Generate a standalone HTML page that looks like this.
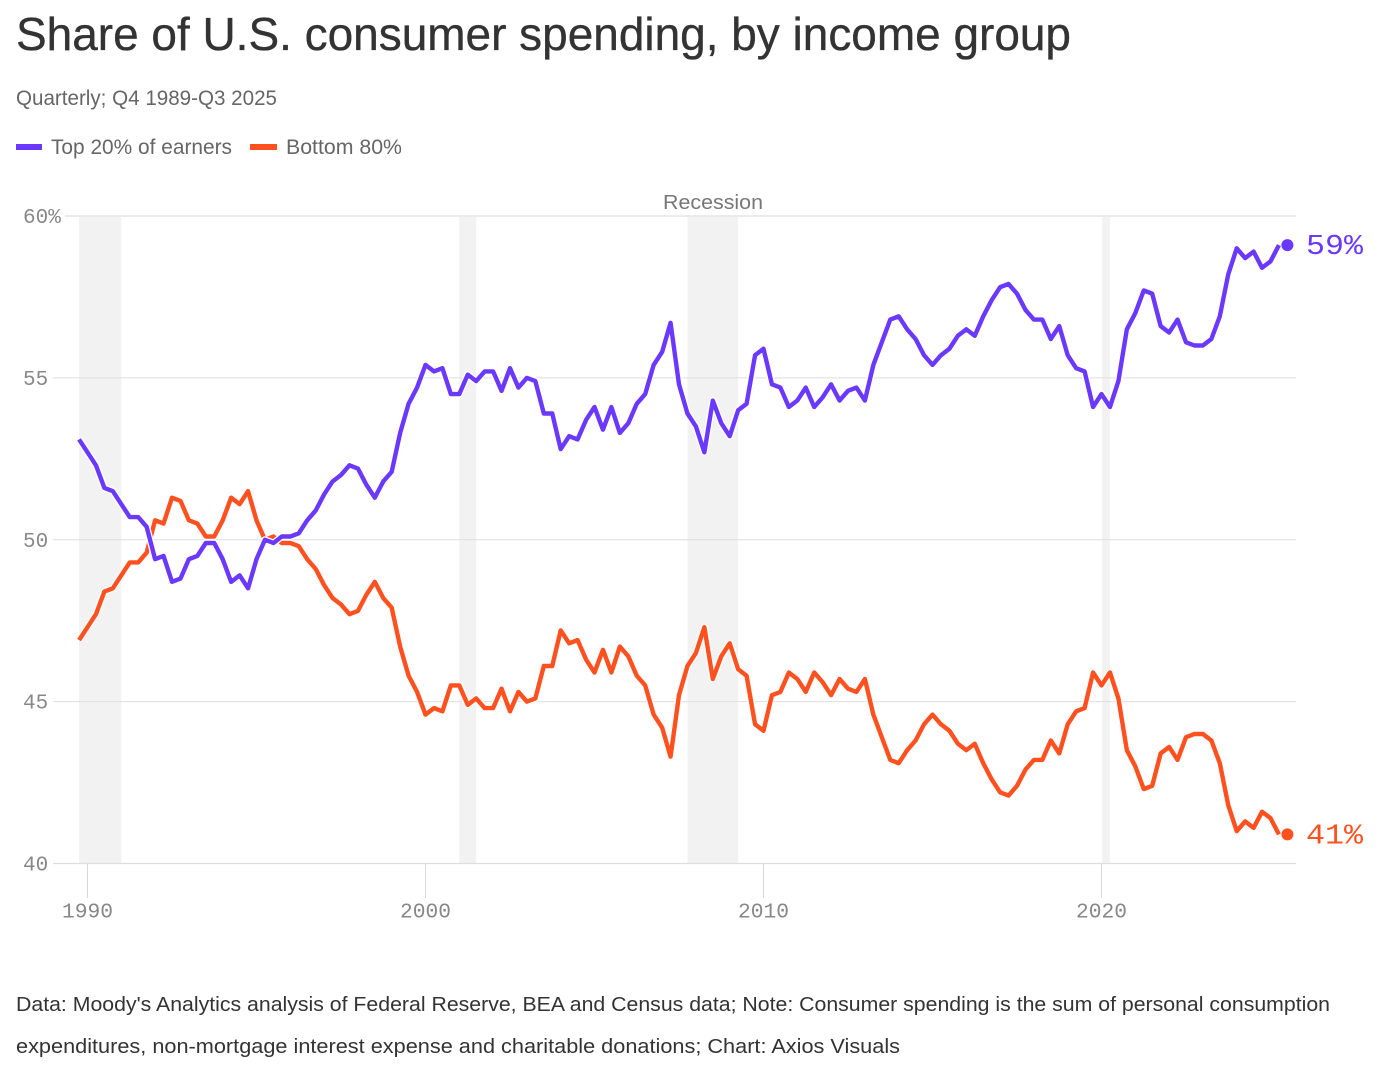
<!DOCTYPE html>
<html lang="en">
<head>
<meta charset="utf-8">
<title>Share of U.S. consumer spending, by income group</title>
<style>
html,body{margin:0;padding:0;background:#fff;}
svg{display:block;font-family:"Liberation Sans",sans-serif;}
.mono{font-family:"Liberation Mono",monospace;}
</style>
</head>
<body>
<svg id="page" xmlns="http://www.w3.org/2000/svg" width="1396" height="1076" viewBox="0 0 1396 1076">
  <rect width="1396" height="1076" fill="#ffffff"/>
  <text x="16" y="50" font-size="46" fill="#333333" stroke="#333333" stroke-width="0.35" textLength="1055" lengthAdjust="spacingAndGlyphs">Share of U.S. consumer spending, by income group</text>
  <text x="16" y="105" font-size="21.5" fill="#666666" textLength="261" lengthAdjust="spacingAndGlyphs">Quarterly; Q4 1989-Q3 2025</text>
  <rect x="16" y="144" width="26" height="6" fill="#6a38ff"/>
  <text x="51" y="154" font-size="21.5" fill="#666666" textLength="181" lengthAdjust="spacingAndGlyphs">Top 20% of earners</text>
  <rect x="250" y="144" width="27" height="6" fill="#ff5020"/>
  <text x="286" y="154" font-size="21.5" fill="#666666" textLength="116" lengthAdjust="spacingAndGlyphs">Bottom 80%</text>
  <text x="663" y="209" font-size="20" fill="#777777" textLength="100" lengthAdjust="spacingAndGlyphs">Recession</text>
  <g id="bands"></g>
  <g id="grid"></g>
  <g id="xaxis"></g>
  <g id="series"></g>
  <text x="16" y="1011" font-size="20.5" fill="#333333" textLength="1314" lengthAdjust="spacingAndGlyphs">Data: Moody's Analytics analysis of Federal Reserve, BEA and Census data; Note: Consumer spending is the sum of personal consumption</text>
  <text x="16" y="1053" font-size="20.5" fill="#333333" textLength="884" lengthAdjust="spacingAndGlyphs">expenditures, non-mortgage interest expense and charitable donations; Chart: Axios Visuals</text>
</svg>
<script>
var topShare = [
53.1,52.7,52.3,51.6,51.5,51.1,50.7,50.7,50.4,49.4,
49.5,48.7,48.8,49.4,49.5,49.9,49.9,49.4,48.7,48.9,
48.5,49.4,50.0,49.9,50.1,50.1,50.2,50.6,50.9,51.4,
51.8,52.0,52.3,52.2,51.7,51.3,51.8,52.1,53.3,54.2,
54.7,55.4,55.2,55.3,54.5,54.5,55.1,54.9,55.2,55.2,
54.6,55.3,54.7,55.0,54.9,53.9,53.9,52.8,53.2,53.1,
53.7,54.1,53.4,54.1,53.3,53.6,54.2,54.5,55.4,55.8,
56.7,54.8,53.9,53.5,52.7,54.3,53.6,53.2,54.0,54.2,
55.7,55.9,54.8,54.7,54.1,54.3,54.7,54.1,54.4,54.8,
54.3,54.6,54.7,54.3,55.4,56.1,56.8,56.9,56.5,56.2,
55.7,55.4,55.7,55.9,56.3,56.5,56.3,56.9,57.4,57.8,
57.9,57.6,57.1,56.8,56.8,56.2,56.6,55.7,55.3,55.2,
54.1,54.5,54.1,54.9,56.5,57.0,57.7,57.6,56.6,56.4,
56.8,56.1,56.0,56.0,56.2,56.9,58.2,59.0,58.7,58.9,
58.4,58.6,59.1,59.1];
var bottomShare = [
46.9,47.3,47.7,48.4,48.5,48.9,49.3,49.3,49.6,50.6,
50.5,51.3,51.2,50.6,50.5,50.1,50.1,50.6,51.3,51.1,
51.5,50.6,50.0,50.1,49.9,49.9,49.8,49.4,49.1,48.6,
48.2,48.0,47.7,47.8,48.3,48.7,48.2,47.9,46.7,45.8,
45.3,44.6,44.8,44.7,45.5,45.5,44.9,45.1,44.8,44.8,
45.4,44.7,45.3,45.0,45.1,46.1,46.1,47.2,46.8,46.9,
46.3,45.9,46.6,45.9,46.7,46.4,45.8,45.5,44.6,44.2,
43.3,45.2,46.1,46.5,47.3,45.7,46.4,46.8,46.0,45.8,
44.3,44.1,45.2,45.3,45.9,45.7,45.3,45.9,45.6,45.2,
45.7,45.4,45.3,45.7,44.6,43.9,43.2,43.1,43.5,43.8,
44.3,44.6,44.3,44.1,43.7,43.5,43.7,43.1,42.6,42.2,
42.1,42.4,42.9,43.2,43.2,43.8,43.4,44.3,44.7,44.8,
45.9,45.5,45.9,45.1,43.5,43.0,42.3,42.4,43.4,43.6,
43.2,43.9,44.0,44.0,43.8,43.1,41.8,41.0,41.3,41.1,
41.6,41.4,40.9,40.9];
var startYear = 1989.75;
var recessionStarts = [1989.75, 2001.0, 2007.75, 2020.02];
var recessionEnds = [1991.0, 2001.5, 2009.25, 2020.25];
var yTicks = [60, 55, 50, 45, 40];
var yTickLabels = ["60%", "55", "50", "45", "40"];
var xTicks = [1990, 2000, 2010, 2020];
var xTickLabels = ["1990", "2000", "2010", "2020"];
var endLabelTop = "59%";
var endLabelBottom = "41%";

var NS = "http://www.w3.org/2000/svg";
function xScale(year) { return 87.5 + (year - 1990) * 33.8; }
function yScale(v) { return 216 + (60 - v) * 32.375; }
function quarterYear(i) { return startYear + i * 0.25; }
function make(tag, parent, attrs) {
  var el = document.createElementNS(NS, tag);
  for (var k in attrs) { el.setAttribute(k, attrs[k]); }
  parent.appendChild(el);
  return el;
}
var bands = document.getElementById('bands');
var grid = document.getElementById('grid');
var xaxis = document.getElementById('xaxis');
var series = document.getElementById('series');

recessionStarts.forEach(function (s, i) {
  var el = make('rect', bands, {
    x: xScale(s), y: yScale(60),
    width: xScale(recessionEnds[i]) - xScale(s),
    height: yScale(40) - yScale(60),
    fill: '#000000', 'fill-opacity': 0.05
  });
  
  
});

yTicks.forEach(function (t, i) {
  var first = i === 0;
  var last = i === yTicks.length - 1;
  var line = make('line', grid, {
    x1: first ? 65 : 53, x2: 1296, y1: yScale(t), y2: yScale(t),
    stroke: first ? '#ebebeb' : '#dedede', 'stroke-width': first ? 2 : (last ? 1.3 : 1)
  });
  
  
  var label = make('text', grid, {
    x: 23, y: yScale(t) + 7, 'font-size': 21, fill: '#888888', 'class': 'mono',
    textLength: yTickLabels[i].length * 12.6, lengthAdjust: 'spacingAndGlyphs'
  });
  label.textContent = yTickLabels[i];
  
  
});

xTicks.forEach(function (t, i) {
  var tick = make('line', xaxis, {
    x1: xScale(t), x2: xScale(t), y1: yScale(40), y2: 898,
    stroke: '#d8d8d8', 'stroke-width': 1
  });
  
  
  var label = make('text', xaxis, {
    x: xScale(t) - 25.5, y: 917.5, 'font-size': 21, fill: '#888888', 'class': 'mono',
    textLength: 51, lengthAdjust: 'spacingAndGlyphs'
  });
  label.textContent = xTickLabels[i];
  
  
});

function linePath(values) {
  var d = '';
  for (var i = 0; i < values.length - 1; i++) {
    d += (i ? 'L' : 'M') + xScale(quarterYear(i)).toFixed(2) + ' ' + yScale(values[i]).toFixed(2);
  }
  return d;
}
function drawSeries(values, color, labelText) {
  var d = linePath(values);
  var casing = make('path', series, {
    d: d, fill: 'none', stroke: '#ffffff', 'stroke-width': 7, 'stroke-linejoin': 'round'
  });
  
  
  var line = make('path', series, {
    d: d, fill: 'none', stroke: color, 'stroke-width': 4.4, 'stroke-linejoin': 'round'
  });
  
  
  var n = values.length - 1;
  var dot = make('circle', series, {
    cx: xScale(quarterYear(n)), cy: yScale(values[n]), r: 6, fill: color
  });
  
  
  var label = make('text', series, {
    x: 1306, y: yScale(values[n]) + 9, 'font-size': 29, fill: color, 'class': 'mono',
    textLength: 57, lengthAdjust: 'spacingAndGlyphs'
  });
  label.textContent = labelText;
  
  
}
drawSeries(bottomShare, '#ff5020', endLabelBottom);
drawSeries(topShare, '#6a38ff', endLabelTop);
</script>
</body>
</html>
